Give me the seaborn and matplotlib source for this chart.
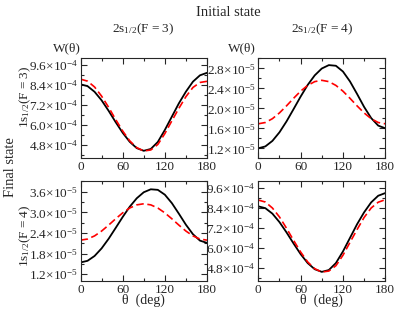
import numpy as np
import pandas as pd
import matplotlib
matplotlib.use('Agg')
import matplotlib.pyplot as plt
import seaborn as sns
from matplotlib.ticker import FixedLocator, MultipleLocator

sns.set_style('ticks')
plt.rcParams['font.family'] = ['Liberation Serif', 'DejaVu Serif']
plt.rcParams['mathtext.fontset'] = 'custom'
plt.rcParams['mathtext.rm'] = 'Liberation Serif'
plt.rcParams['mathtext.it'] = 'Liberation Serif:italic'

# angle grid (deg)
theta = [0, 10, 20, 30, 40, 50, 60, 70, 80, 90, 100, 110, 120, 130, 140, 150, 160, 170, 180]

# 2s(F=3) -> 1s(F=3), units 1e-4
w33_solid = [8.44, 8.33, 7.99, 7.48, 6.85, 6.17, 5.53, 4.99, 4.61, 4.45,
             4.56, 4.98, 5.70, 6.50, 7.30, 8.00, 8.60, 8.98, 9.13]
w33_dash = [8.75, 8.63, 8.28, 7.73, 7.06, 6.33, 5.64, 5.05, 4.64, 4.44,
            4.50, 4.83, 5.48, 6.25, 7.00, 7.70, 8.25, 8.55, 8.62]

# 2s(F=4) -> 1s(F=3), units 1e-5
w43_solid = [1.20, 1.238, 1.348, 1.52, 1.738, 1.984, 2.234, 2.467, 2.659, 2.796,
             2.864, 2.851, 2.736, 2.537, 2.288, 2.028, 1.805, 1.654, 1.60]
w43_dash = [1.69, 1.716, 1.792, 1.908, 2.049, 2.20, 2.343, 2.458, 2.534, 2.56,
            2.534, 2.458, 2.343, 2.20, 2.049, 1.908, 1.792, 1.716, 1.69]

# 2s(F=3) -> 1s(F=4), units 1e-5
w34_solid = [1.54, 1.588, 1.729, 1.95, 2.23, 2.545, 2.865, 3.163, 3.41, 3.586,
             3.672, 3.656, 3.515, 3.269, 2.96, 2.639, 2.363, 2.176, 2.11]
w34_dash = [2.19, 2.222, 2.314, 2.455, 2.628, 2.812, 2.985, 3.126, 3.218, 3.25,
            3.218, 3.126, 2.985, 2.812, 2.628, 2.455, 2.314, 2.222, 2.19]

# 2s(F=4) -> 1s(F=4), units 1e-4
w44_solid = [8.50, 8.39, 8.06, 7.55, 6.93, 6.26, 5.62, 5.08, 4.71, 4.55,
             4.66, 5.08, 5.78, 6.60, 7.42, 8.14, 8.74, 9.14, 9.30]
w44_dash = [8.88, 8.76, 8.40, 7.86, 7.18, 6.45, 5.75, 5.15, 4.74, 4.54,
            4.60, 4.92, 5.55, 6.33, 7.10, 7.83, 8.40, 8.75, 8.90]

yticks_e4 = [4.8, 6.0, 7.2, 8.4, 9.6]
yticks_43 = [1.2, 1.6, 2.0, 2.4, 2.8]
yticks_34 = [1.2, 1.8, 2.4, 3.0, 3.6]

panels = [
    # data solid, data dash, scale exp, ylim, majors, minor step, rect
    (w33_solid, w33_dash, -4, (4.0, 10.0), yticks_e4, 0.6, [0.2023, 0.491, 0.3178, 0.3215]),
    (w43_solid, w43_dash, -5, (1.0, 3.0), yticks_43, 0.2, [0.649, 0.491, 0.319, 0.3215]),
    (w34_solid, w34_dash, -5, (1.0, 3.9), yticks_34, 0.3, [0.2023, 0.0965, 0.3178, 0.320]),
    (w44_solid, w44_dash, -4, (4.0, 10.0), yticks_e4, 0.6, [0.649, 0.0965, 0.319, 0.320]),
]

fig = plt.figure(figsize=(3.98, 3.11), dpi=100)
axes = []
for i, (ys, yd, ex, ylim, majors, mstep, rect) in enumerate(panels):
    ax = fig.add_axes(rect)
    sc = 10.0 ** ex
    df = pd.DataFrame({'theta': theta,
                       'solid': np.array(ys) * sc,
                       'dash': np.array(yd) * sc})
    sns.lineplot(data=df, x='theta', y='solid', color='black', lw=1.3, ax=ax)
    sns.lineplot(data=df, x='theta', y='dash', color='red', lw=1.2,
                 linestyle=(0, (4.5, 2.2)), ax=ax)
    ax.set_xlim(0, 180)
    ax.set_ylim(ylim[0] * sc, ylim[1] * sc)
    ax.xaxis.set_major_locator(FixedLocator([0, 60, 120, 180]))
    ax.xaxis.set_minor_locator(MultipleLocator(30))
    ax.yaxis.set_major_locator(FixedLocator([t * sc for t in majors]))
    ax.yaxis.set_minor_locator(MultipleLocator(mstep * sc))
    ax.set_yticklabels([r'%.1f$\times$10$^{%d}$' % (t, ex) for t in majors])
    ax.tick_params(which='both', direction='in', top=True, right=True,
                   labelsize=9.5, pad=2, width=0.8)
    ax.tick_params(which='major', length=4)
    ax.tick_params(which='minor', length=2.5)
    for s in ax.spines.values():
        s.set_linewidth(0.8)
    ax.set_ylabel('')
    if i >= 2:
        ax.set_xlabel('θ  (deg)', fontsize=10, labelpad=-1.5)
    else:
        ax.set_xlabel('')
    axes.append(ax)

fig.text(228 / 398, 1 - 12.5 / 311, 'Initial state', ha='center', va='center', fontsize=10.5)
fig.text(143 / 398, 1 - 29 / 311, r'2s$_{1/2}$(F = 3)', ha='center', va='center', fontsize=9.5)
fig.text(322 / 398, 1 - 29 / 311, r'2s$_{1/2}$(F = 4)', ha='center', va='center', fontsize=9.5)
fig.text(67 / 398, 1 - 48 / 311, 'W(θ)', ha='center', va='center', fontsize=9.5)
fig.text(242 / 398, 1 - 48 / 311, 'W(θ)', ha='center', va='center', fontsize=9.5)
fig.text(11 / 398, 1 - 167 / 311, 'Final state', ha='center', va='center',
         rotation=90, fontsize=10.5)
fig.text(25 / 398, 1 - 97 / 311, r'1s$_{1/2}$(F = 3)', ha='center', va='center',
         rotation=90, fontsize=9.5)
fig.text(25 / 398, 1 - 236 / 311, r'1s$_{1/2}$(F = 4)', ha='center', va='center',
         rotation=90, fontsize=9.5)

fig.savefig('out.png', dpi=100)
